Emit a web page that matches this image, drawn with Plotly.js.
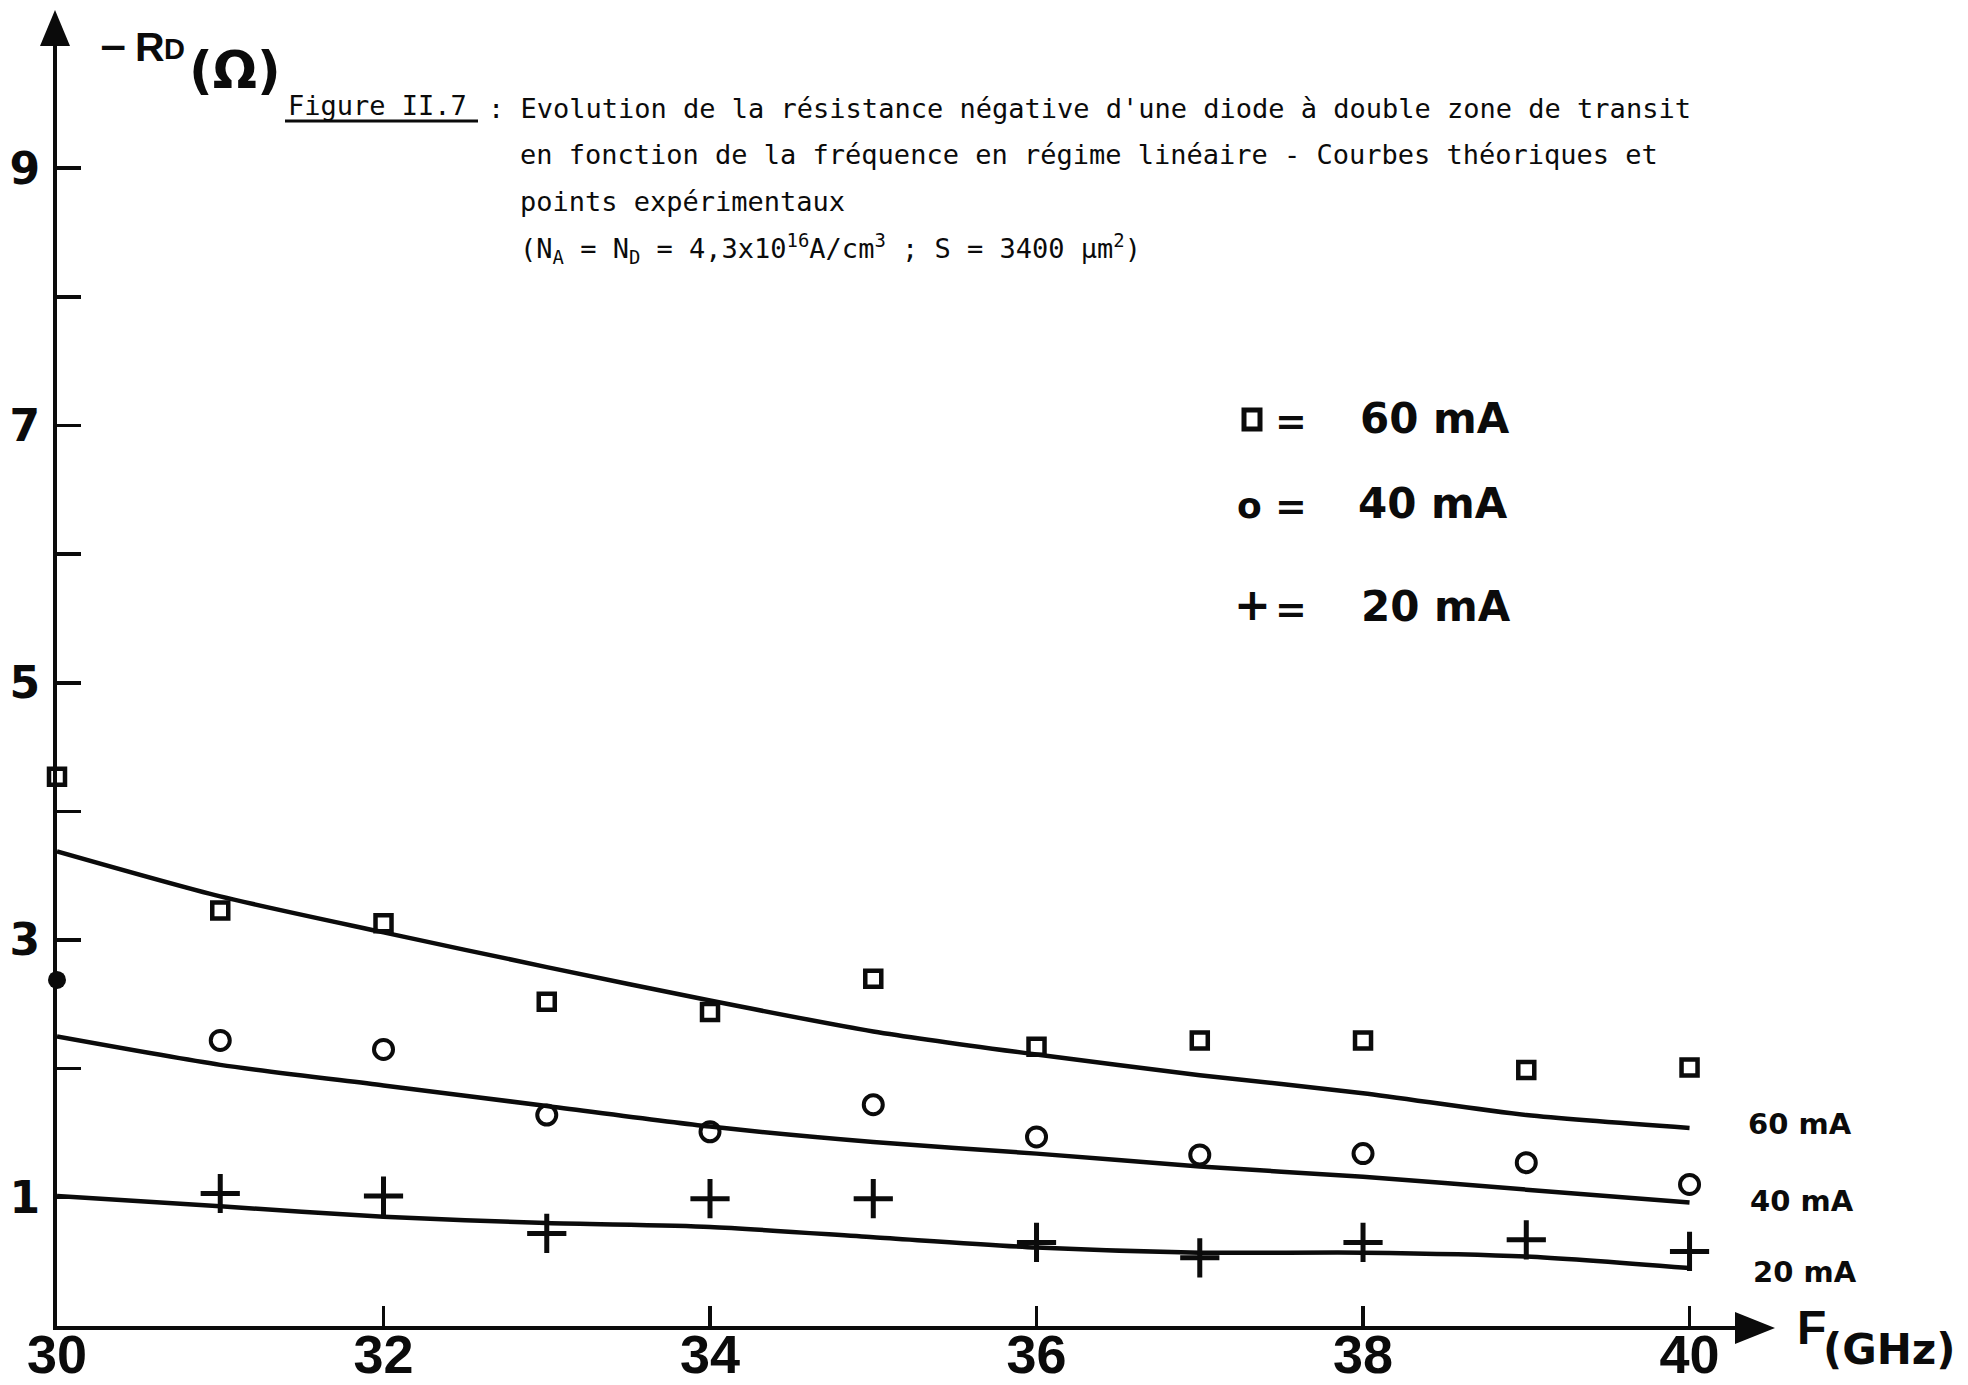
<!DOCTYPE html>
<html><head><meta charset="utf-8">
<script src="https://cdn.plot.ly/plotly-3.0.1.min.js"></script>
<style>html,body{margin:0;padding:0;background:#fff}#chart{width:1968px;height:1385px}</style>
</head><body><div id="chart"></div>
<script>
// ---- data ----
const freqGHz   = [30, 31, 32, 33, 34, 35, 36, 37, 38, 39, 40];
const theory60  = [3.69, 3.34, 3.06, 2.79, 2.53, 2.29, 2.11, 1.95, 1.81, 1.64, 1.54];
const theory40  = [2.25, 2.03, 1.87, 1.71, 1.55, 1.43, 1.34, 1.24, 1.16, 1.06, 0.96];
const theory20  = [1.01, 0.93, 0.85, 0.80, 0.77, 0.69, 0.61, 0.57, 0.57, 0.54, 0.45];
const exp60F    = [30, 31, 32, 33, 34, 35, 36, 37, 38, 39, 40];
const exp60     = [4.27, 3.23, 3.13, 2.52, 2.44, 2.70, 2.17, 2.22, 2.22, 1.99, 2.01];
const exp40F    = [31, 32, 33, 34, 35, 36, 37, 38, 39, 40];
const exp40     = [2.22, 2.15, 1.64, 1.51, 1.72, 1.47, 1.33, 1.34, 1.27, 1.10];
const exp20F    = [31, 32, 33, 34, 35, 36, 37, 38, 39, 40];
const exp20     = [1.03, 1.01, 0.72, 0.99, 0.99, 0.65, 0.53, 0.65, 0.67, 0.58];
const axisDotF  = [30];
const axisDotR  = [2.69];
const xTickVals = [30, 32, 34, 36, 38, 40];
const xTickText = ['30', '32', '34', '36', '38', '40'];
const yTickVals = [1, 3, 5, 7, 9];
const yTickText = ['1', '3', '5', '7', '9'];
const yMinorVals = [2, 4, 6, 8];
const legendSymbols = ['o', '+'];
const legendLabels  = ['60 mA', '40 mA', '20 mA'];
const curveLabels   = ['60 mA', '40 mA', '20 mA'];
const titleHead  = 'Figure II.7';
const titleLines = [
  ': Evolution de la r\u00e9sistance n\u00e9gative d\'une diode \u00e0 double zone de transit',
  'en fonction de la fr\u00e9quence en r\u00e9gime lin\u00e9aire - Courbes th\u00e9oriques et',
  'points exp\u00e9rimentaux',
  '(N<sub>A</sub> = N<sub>D</sub> = 4,3x10<sup>16</sup>A/cm<sup>3</sup> ; S = 3400 \u00b5m<sup>2</sup>)'
];
const yTitleParts = ['\u2212', 'R', 'D', '(\u03a9)'];
const xTitleParts = ['F', '(GHz)'];

// ---- geometry ----
const W = 1968, H = 1385;
const M = {l: 57, r: 205, t: 19, b: 59};
const PW = W - M.l - M.r, PH = H - M.t - M.b;
const px = X => (X - M.l) / PW;
const py = Y => (H - M.b - Y) / PH;

const INK = '#0b0b0b';
const mono = 'DejaVu Sans Mono';
const boldSans = 'DejaVu Sans';

const lineStyle = {color: INK, width: 4.5, shape: 'spline', smoothing: 0.7};
const traces = [
  {x: freqGHz, y: theory60, mode: 'lines', line: lineStyle, hoverinfo: 'skip'},
  {x: freqGHz, y: theory40, mode: 'lines', line: lineStyle, hoverinfo: 'skip'},
  {x: freqGHz, y: theory20, mode: 'lines', line: lineStyle, hoverinfo: 'skip'},
  {x: exp60F, y: exp60, mode: 'markers', cliponaxis: false,
   marker: {symbol: 'square-open', size: 16, color: INK, line: {width: 4.5, color: INK}}},
  {x: exp40F, y: exp40, mode: 'markers', cliponaxis: false,
   marker: {symbol: 'circle-open', size: 19, color: INK, line: {width: 4, color: INK}}},
  {x: exp20F, y: exp20, mode: 'markers', cliponaxis: false,
   marker: {symbol: 'cross-thin-open', size: 28, color: INK, line: {width: 5, color: INK}}},
  {x: axisDotF, y: axisDotR, mode: 'markers', cliponaxis: false,
   marker: {symbol: 'circle', size: 18, color: INK}}
];

const ann = [];
function txt(text, X, Y, size, opts) {
  opts = opts || {};
  ann.push(Object.assign({
    xref: 'paper', yref: 'paper', x: px(X), y: py(Y), text: text, showarrow: false,
    xanchor: 'left', yanchor: 'middle',
    font: {family: opts.family || boldSans, size: size, color: INK, weight: opts.weight || 'bold'}
  }, opts.extra || {}));
}
// title block
txt(titleHead, 286, 106, 27, {family: mono, weight: 'normal'});
txt(titleLines[0], 486, 108, 27, {family: mono, weight: 'normal'});
txt(titleLines[1], 518, 155, 27, {family: mono, weight: 'normal'});
txt(titleLines[2], 518, 201, 27, {family: mono, weight: 'normal'});
txt(titleLines[3], 518, 249, 27, {family: mono, weight: 'normal'});
// legend block
const legY = [418, 503, 606];
const labX = [1358, 1356, 1359];
txt(legendSymbols[0], 1249, 505, 36, {extra: {xanchor: 'center'}});
txt(legendSymbols[1], 1252, 604, 44, {extra: {xanchor: 'center'}});
for (let i = 0; i < 3; i++) {
  txt('=', 1291, legY[i] + 3, 38, {extra: {xanchor: 'center'}});
  txt(legendLabels[i], labX[i], legY[i], 42);
}
// curve end labels
const curveLabX = [1746, 1748, 1751];
const curveLabY = [1124, 1201, 1272];
for (let i = 0; i < 3; i++) txt(curveLabels[i], curveLabX[i], curveLabY[i], 29);
// axis titles
txt(yTitleParts[0], 113, 47, 36, {extra: {xanchor: 'center'}});
txt(yTitleParts[1], 150, 47, 41, {family: 'Liberation Sans', extra: {xanchor: 'center'}});
txt(yTitleParts[2], 174, 49, 29, {family: 'Liberation Sans', extra: {xanchor: 'center'}});
txt(yTitleParts[3], 235, 70, 52, {extra: {xanchor: 'center'}});
txt(xTitleParts[0], 1811, 1327, 48, {family: 'Liberation Sans', extra: {xanchor: 'center'}});
txt(xTitleParts[1], 1889, 1349, 42, {extra: {xanchor: 'center'}});

const layout = {
  width: W, height: H, margin: M, showlegend: false,
  paper_bgcolor: '#fff', plot_bgcolor: '#fff',
  xaxis: {range: [30, 40.45], showgrid: false, zeroline: false, showline: true,
    linecolor: INK, linewidth: 4, ticks: 'inside', ticklen: 20, tickwidth: 3.5, tickcolor: INK,
    tickvals: xTickVals, ticktext: xTickText, ticklabelstandoff: -22,
    tickfont: {family: 'Liberation Sans', size: 54, color: INK, weight: 'bold'}},
  yaxis: {range: [0, 10.16], showgrid: false, zeroline: false, showline: true,
    linecolor: INK, linewidth: 4, ticks: 'inside', ticklen: 24, tickwidth: 3.5, tickcolor: INK,
    tickvals: yTickVals, ticktext: yTickText, ticklabelstandoff: 4,
    minor: {tickvals: yMinorVals, ticks: 'inside', ticklen: 24, tickwidth: 3.5, tickcolor: INK, showgrid: false},
    tickfont: {family: boldSans, size: 44, color: INK, weight: 'bold'}},
  shapes: [
    // underline of the figure number
    {type: 'line', xref: 'paper', yref: 'paper', x0: px(285), x1: px(478),
     y0: py(121), y1: py(121), line: {color: INK, width: 3}},
    // legend square symbol
    {type: 'rect', xref: 'paper', yref: 'paper', x0: px(1244), x1: px(1260),
     y0: py(429), y1: py(410), line: {color: INK, width: 5}, fillcolor: 'rgba(0,0,0,0)'},
    // axis arrow heads
    {type: 'path', xref: 'paper', yref: 'paper', xsizemode: 'pixel', ysizemode: 'pixel',
     xanchor: px(55), yanchor: py(10), path: 'M0,0 L-15,-36 L15,-36 Z',
     fillcolor: INK, line: {width: 0}},
    {type: 'path', xref: 'paper', yref: 'paper', xsizemode: 'pixel', ysizemode: 'pixel',
     xanchor: px(1775), yanchor: py(1328), path: 'M0,0 L-40,16 L-40,-16 Z',
     fillcolor: INK, line: {width: 0}}
  ],
  annotations: ann
};
Plotly.newPlot('chart', traces, layout, {staticPlot: true, displayModeBar: false});
</script>
</body></html>
